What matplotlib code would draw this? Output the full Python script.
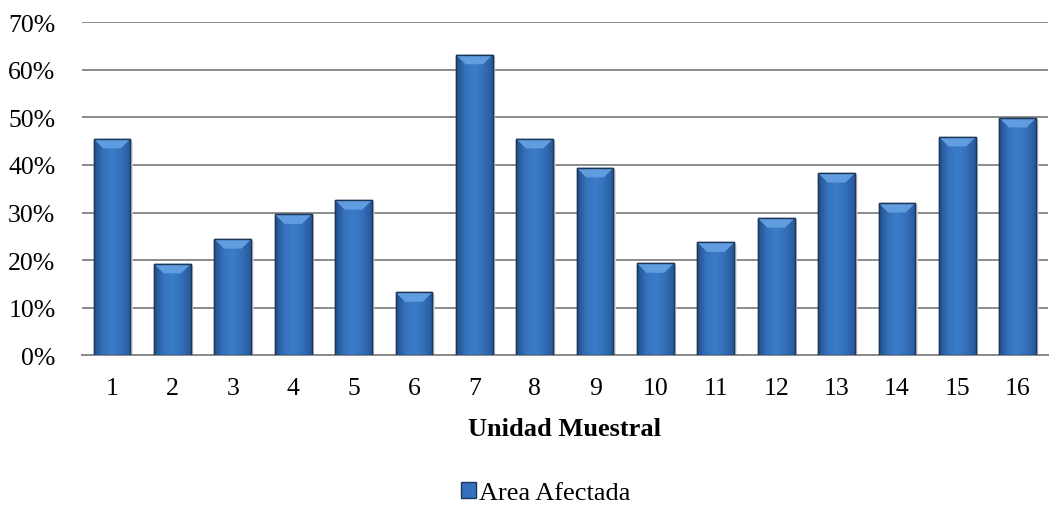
import numpy as np
import matplotlib.pyplot as plt
from matplotlib.patches import Patch, Polygon
from matplotlib.colors import LinearSegmentedColormap

plt.rcParams['font.family'] = ['Liberation Serif', 'DejaVu Serif']

unidades = [str(i) for i in range(1, 17)]
area_afectada = [0.455, 0.192, 0.244, 0.296, 0.326, 0.132, 0.632, 0.455,
                 0.394, 0.193, 0.237, 0.288, 0.383, 0.320, 0.459, 0.499]

fig = plt.figure(figsize=(10.49, 5.06), dpi=100)
ax = fig.add_axes([0.078, 0.2964, 0.921, 0.6572])

x = np.arange(len(unidades))
bars = ax.bar(x, area_afectada, width=0.61, color='#2f65a8',
              edgecolor='#1c3658', linewidth=1.0, zorder=3)

# horizontal gradient inside each bar (dark edges, lighter middle)
cmap = LinearSegmentedColormap.from_list('barra', ['#23508a', '#3672bd', '#3b7cc8', '#3470b9', '#28589a'])
grad = np.linspace(0, 1, 64).reshape(1, -1)
for b in bars:
    x0, w, h = b.get_x(), b.get_width(), b.get_height()
    im = ax.imshow(grad, cmap=cmap, aspect='auto', extent=[x0, x0 + w, 0, h],
                   zorder=3.5, interpolation='bicubic')
    im.set_clip_path(b)
    # bevel on top
    dx, dy = 0.16, 0.02
    top = Polygon([[x0, h], [x0 + w, h], [x0 + w - dx, h - dy], [x0 + dx, h - dy]],
                  closed=True, facecolor='#5f9ce0', edgecolor='none', zorder=4)
    ax.add_patch(top)
    # subtle shadow on the right
    ax.add_patch(Polygon([[x0 + w, 0], [x0 + w + 0.04, 0], [x0 + w + 0.04, h - 0.005],
                          [x0 + w, h]], closed=True, facecolor='#dcdcdc',
                         edgecolor='none', zorder=2.5))
    # outline on top
    ax.add_patch(Polygon([[x0, 0], [x0, h], [x0 + w, h], [x0 + w, 0]], closed=True,
                         fill=False, edgecolor='#1c3658', linewidth=1.0, zorder=5))

ax.set_xlim(-0.5, len(unidades) - 0.5)
ax.set_ylim(0, 0.70)
ax.set_yticks(np.arange(0, 0.71, 0.1))
ax.set_yticklabels([f'{int(round(v * 100))}%' for v in np.arange(0, 0.71, 0.1)])
ax.set_xticks(x)
ax.set_xticklabels(unidades)
ax.yaxis.grid(True, color='#8a8a8a', linewidth=1.4, zorder=0)
ax.set_axisbelow(True)

for s in ['top', 'right', 'left']:
    ax.spines[s].set_visible(False)
ax.spines['bottom'].set_color('#8a8a8a')
ax.spines['bottom'].set_linewidth(1.4)
ax.tick_params(axis='both', length=0, labelsize=18.5, colors='black')
ax.tick_params(axis='x', pad=16)
ax.tick_params(axis='y', pad=19)

ax.set_xlabel('Unidad Muestral', fontsize=19, fontweight='bold', labelpad=13)

fig.legend(handles=[Patch(facecolor='#3572bd', edgecolor='#1c3658', label='Area Afectada')],
           loc='center', bbox_to_anchor=(0.52, 0.024), frameon=False, fontsize=19,
           handlelength=0.6, handleheight=0.6, handletextpad=0.1, borderpad=0)

fig.savefig('out.png', dpi=100)
